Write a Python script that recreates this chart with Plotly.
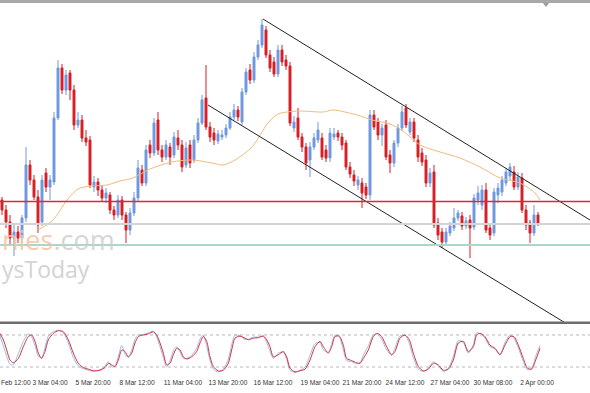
import plotly.graph_objects as go

# ---------------- data ----------------
candle_open = [130,120,108,92,98,92,112,165,150,133,
               108,157,143,148,212,262,240,257,240,205,
               210,192,190,143,148,140,132,135,120,115,
               130,115,100,117,132,160,147,185,177,210,
               180,173,183,175,192,185,165,185,170,190,
               207,232,203,197,189,193,195,202,213,220,
               208,238,260,250,273,285,300,275,268,256,
               280,270,264,202,212,193,183,170,183,190,
               192,180,172,193,197,193,187,163,155,145,
               147,143,135,215,208,195,205,175,167,187,
               202,222,198,208,190,177,170,147,158,107,
               98,88,97,102,112,114,104,110,103,130,
               125,140,102,97,135,138,147,154,158,143,
               152,120,107,97,115]
candle_close = [120,108,92,98,92,112,165,150,133,105,
                150,143,150,212,262,240,255,240,205,210,
                192,188,145,148,140,132,137,120,115,130,
                115,100,117,132,162,147,180,177,207,180,
                173,185,173,193,185,163,182,167,190,207,
                230,203,193,190,196,195,202,213,220,213,
                238,258,250,273,285,305,275,262,256,280,
                268,264,207,208,193,183,167,183,192,200,
                173,172,197,196,193,185,163,156,149,150,
                137,135,215,203,195,202,173,167,187,202,
                218,205,208,192,173,168,147,157,105,95,
                88,98,104,112,117,104,109,102,132,137,
                140,100,95,138,142,150,158,163,143,153,
                120,105,97,115,107]
candle_high = [133,125,115,105,104,115,183,170,155,140,
               155,162,155,218,270,266,260,260,245,218,
               215,200,194,154,152,145,142,138,124,135,
               134,118,122,138,170,165,185,190,212,218,
               185,190,187,198,200,190,188,190,195,212,
               235,265,208,202,200,200,206,218,226,224,
               242,262,266,278,290,311,304,280,273,285,
               285,275,268,214,222,197,187,188,197,208,
               197,185,202,202,200,197,190,168,160,154,
               152,147,220,220,212,206,210,180,190,206,
               224,226,212,212,195,182,175,162,165,112,
               102,102,108,122,120,118,113,115,136,144,
               145,147,106,142,147,154,162,167,164,158,
               157,125,110,125,118]
candle_low = [115,102,85,74,87,87,108,145,130,97,
              104,138,130,145,210,236,235,230,200,202,
              188,184,142,138,134,128,127,116,110,112,
              110,87,95,114,128,144,144,172,174,175,
              168,170,165,172,180,158,162,162,167,187,
              205,200,188,185,186,190,192,200,210,209,
              205,235,246,247,270,282,272,258,253,253,
              264,260,204,198,190,178,160,153,180,187,
              170,168,168,190,189,180,160,152,144,140,
              122,131,130,200,190,184,170,157,163,183,
              199,202,195,188,168,164,143,143,102,90,
              82,85,94,99,109,100,101,72,100,125,
              120,97,90,94,127,134,144,150,140,140,
              117,100,87,94,104]
bar_index = list(range(len(candle_close)))

# moving average (sampled along the curve)
ma_index = [9,12.75,16.25,19,22,26.25,29.5,32.75,37,42.5,47.5,52.5,55.25,58.25,62.5,
            66.5,69,71.25,74.5,80.25,82.75,88.75,92.5,97,100.25,104.5,109.5,114.5,
            119.5,124.5,129.5,133.25,134.5]
ma_value = [100,110,130,141,144,145,149,152,161,168,170,167,165,170,183,
            207,216,218,219,218,220,215,210,206,199,185,178,172,
            163,152,147,137,130]

# horizontal levels
level_red = 128.5
level_gray = 106
level_green = 85

# channel lines (start / end points)
upper_channel_x = [65.25, 147]
upper_channel_y = [311, 110]
lower_channel_x = [51.5, 147]
lower_channel_y = [225, -8]

# stochastic oscillator
stoch_index = [-0.5,0.33,1.17,2,2.83,4.08,5.33,6.58,7.42,8.25,
               9.08,9.92,10.75,11.58,12.83,14.08,15.33,16.58,17.83,19.08,
               20.33,21.58,22.83,24.5,25.75,26.58,27.42,28.25,29.08,29.92,
               30.75,31.58,32.42,33.25,34.08,35.33,36.58,37.83,38.67,39.5,
               40.33,41.17,42,42.83,43.67,44.5,45.33,46.17,47.42,48.67,
               49.5,50.33,51.17,52,52.83,54.08,55.33,56.58,57.42,58.25,
               59.5,60.75,61.58,62.83,64.08,65.33,66.17,67,67.83,69.08,
               70.33,71.17,72,73.25,74.5,75.75,77,78.25,79.5,80.33,
               81.58,82.42,83.25,84.33,85.33,86.17,87.42,88.67,89.5,90.33,
               91.58,92.83,93.83,94.92,96.17,97.42,98.25,99.5,100.75,101.83,
               102.83,104.08,105.33,106.58,107.83,109.08,110.33,111.58,112.83,114.08,
               115.33,116.58,117.83,118.67,119.67,120.75,122,123.25,124.5,125.75,
               127,128,129.08,130.33,131.33,132.42,133.42,134.5]
stoch_d = [83,71,52,33,28,36,58,77,80,68,
           46,36,49,71,83,88,86,71,46,27,
           19,16,13,14,19,27,24,21,33,52,
           49,39,46,65,77,80,82,86,80,65,
           46,24,27,43,55,52,39,35,39,49,
           65,77,68,39,21,12.5,14,27,52,74,
           78,74,71,74,75,78,71,58,39,43,
           49,39,18,11,13,16,33,58,68,58,
           46,58,77,78,61,36,32,28,27,36,
           52,77,83,77,58,43,49,74,80,71,
           46,21,12.5,16,27,24,14,16,33,65,
           68,49,58,80,83,77,61,55,43,61,
           77,77,61,36,18,16,33,55]
stoch_k = [78,60,40,25,24,45,68,82,76,60,
           40,38,56,78,86,89,84,65,38,22,
           17,14,12,15,22,30,20,22,40,60,
           44,38,52,72,80,81,84,87,76,58,
           38,20,32,50,58,48,36,36,42,55,
           72,80,60,32,16,11,16,35,62,80,
           78,72,72,76,76,78,66,50,36,46,
           48,34,14,10,14,20,42,64,66,52,
           48,64,80,76,52,32,30,26,28,42,
           60,80,82,72,52,42,56,78,80,64,
           38,16,12,18,30,22,12,18,40,70,
           66,46,62,84,82,74,58,54,44,66,
           80,74,56,30,15,18,40,60]
stoch_levels = [80, 20]

tick_labels = ["29 Feb 12:00","3 Mar 04:00","5 Mar 20:00","8 Mar 12:00","11 Mar 04:00",
               "13 Mar 20:00","16 Mar 12:00","19 Mar 04:00","21 Mar 20:00","24 Mar 12:00",
               "27 Mar 04:00","30 Mar 08:00","2 Apr 00:00"]
tick_positions = [2.3,12,22.75,33.75,45.25,56.5,67.75,79.5,90,100.75,112,122.75,133.75]

# ---------------- figure ----------------
W, H = 590, 393
XR = [-0.5, 147]
BLUE = "#6f98de"
RED = "#d61f26"

fig = go.Figure()

fig.add_trace(go.Candlestick(
    x=bar_index, open=candle_open, high=candle_high, low=candle_low, close=candle_close,
    increasing=dict(line=dict(color=BLUE, width=1), fillcolor=BLUE),
    decreasing=dict(line=dict(color=RED, width=1), fillcolor=RED),
    whiskerwidth=0, hoverinfo="skip", xaxis="x", yaxis="y", showlegend=False))

fig.add_trace(go.Scatter(x=ma_index, y=ma_value, mode="lines",
                         line=dict(color="#f0bb7c", width=1, shape="spline", smoothing=0.8),
                         hoverinfo="skip", xaxis="x", yaxis="y", showlegend=False))

for cx, cy in ((upper_channel_x, upper_channel_y), (lower_channel_x, lower_channel_y)):
    fig.add_trace(go.Scatter(x=cx, y=cy, mode="lines",
                             line=dict(color="#222222", width=1),
                             hoverinfo="skip", xaxis="x", yaxis="y", showlegend=False))

fig.add_trace(go.Scatter(x=stoch_index, y=stoch_k, mode="lines",
                         line=dict(color="#9dbbe8", width=1, shape="spline", smoothing=0.7),
                         hoverinfo="skip", xaxis="x2", yaxis="y2", showlegend=False))
fig.add_trace(go.Scatter(x=stoch_index, y=stoch_d, mode="lines",
                         line=dict(color="#d0323c", width=1, shape="spline", smoothing=0.7),
                         hoverinfo="skip", xaxis="x2", yaxis="y2", showlegend=False))

# horizontal price levels drawn as traces across the full x range
for lv, col, wd in ((level_gray, "#d4d4d4", 2), (level_green, "#a9d9c4", 2), (level_red, "#d8283a", 1.5)):
    fig.add_trace(go.Scatter(x=XR, y=[lv, lv], mode="lines", line=dict(color=col, width=wd),
                             hoverinfo="skip", xaxis="x", yaxis="y", showlegend=False))

shapes = []
for lv in stoch_levels:
    shapes.append(dict(type="line", xref="paper", yref="y2", x0=0, x1=1, y0=lv, y1=lv,
                       line=dict(color="#b8b8b8", width=1, dash="dot"), layer="below"))
# panel frame lines
shapes.append(dict(type="line", xref="paper", yref="paper", x0=0, x1=1,
                   y0=1 - 1.5 / H, y1=1 - 1.5 / H, line=dict(color="#a8a8a8", width=3)))
shapes.append(dict(type="line", xref="paper", yref="paper", x0=0, x1=1,
                   y0=1 - 322.8 / H, y1=1 - 322.8 / H, line=dict(color="#6e6e6e", width=2.5)))
# chart shift marker
shapes.append(dict(type="path", xref="paper", yref="paper",
                   path=f"M {543/W} {1-3/H} L {549/W} {1-3/H} L {546/W} {1-7/H} Z",
                   fillcolor="#9a9a9a", line=dict(width=0)))

annotations = [
    dict(text="<span style='color:#f7c3a4;font-size:27px'>nies</span>"
              "<span style='color:#cfcfcf;font-size:27px'>.com</span><br>"
              "<span style='color:#cccccc;font-size:23px'>ysToday</span>",
         xref="paper", yref="paper", x=0, y=1 - 253 / H, xanchor="left", yanchor="middle",
         align="left", showarrow=False, font=dict(family="Open Sans", size=21.5),
         opacity=0.85),
]

fig.update_layout(
    width=W, height=H, margin=dict(l=0, r=0, t=0, b=0, autoexpand=False),
    paper_bgcolor="white", plot_bgcolor="white",
    xaxis=dict(domain=[0, 1], range=XR, showticklabels=False, showgrid=False, zeroline=False,
               showline=False, rangeslider=dict(visible=False), anchor="y", fixedrange=True),
    yaxis=dict(domain=[1 - 322 / H, 1 - 4 / H], range=[8, 326], showticklabels=False,
               showgrid=False, zeroline=False, showline=False, fixedrange=True),
    xaxis2=dict(domain=[0, 1], range=XR, anchor="y2", showgrid=False, zeroline=False,
                showline=False, tickmode="array", tickvals=tick_positions, ticktext=tick_labels,
                ticks="", ticklabeloverflow="allow", tickangle=0, automargin=False,
                tickfont=dict(family="Liberation Sans", size=6.6, color="#333333"), fixedrange=True),
    yaxis2=dict(domain=[1 - 377.7 / H, 1 - 324.3 / H], range=[0, 100], showticklabels=False,
                showgrid=False, zeroline=False, showline=False, fixedrange=True),
    shapes=shapes, annotations=annotations, showlegend=False,
)

fig.write_html("out.html", config={"displayModeBar": False, "staticPlot": True})
